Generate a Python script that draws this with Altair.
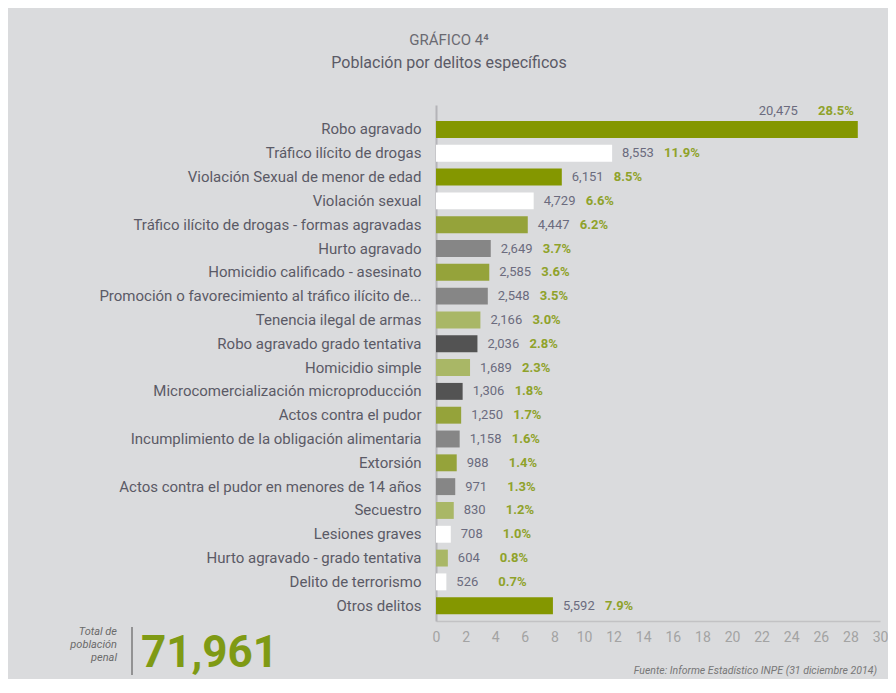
import altair as alt
import pandas as pd

categories = [
    "Robo agravado",
    "Tráfico ilícito de drogas",
    "Violación Sexual de menor de edad",
    "Violación sexual",
    "Tráfico ilícito de drogas - formas agravadas",
    "Hurto agravado",
    "Homicidio calificado - asesinato",
    "Promoción o favorecimiento al tráfico ilícito de...",
    "Tenencia ilegal de armas",
    "Robo agravado grado tentativa",
    "Homicidio simple",
    "Microcomercialización microproducción",
    "Actos contra el pudor",
    "Incumplimiento de la obligación alimentaria",
    "Extorsión",
    "Actos contra el pudor en menores de 14 años",
    "Secuestro",
    "Lesiones graves",
    "Hurto agravado - grado tentativa",
    "Delito de terrorismo",
    "Otros delitos",
]
counts = [20475, 8553, 6151, 4729, 4447, 2649, 2585, 2548, 2166, 2036, 1689,
          1306, 1250, 1158, 988, 971, 830, 708, 604, 526, 5592]
percents = [28.5, 11.9, 8.5, 6.6, 6.2, 3.7, 3.6, 3.5, 3.0, 2.8, 2.3,
            1.8, 1.7, 1.6, 1.4, 1.3, 1.2, 1.0, 0.8, 0.7, 7.9]
x_ticks = list(range(0, 31, 2))
total_label = "71,961"
title_text = "GRÁFICO 4⁴"
subtitle_text = "Población por delitos específicos"
total_caption = "Total de\npoblación\npenal"
source_text = "Fuente: Informe Estadístico INPE (31 diciembre 2014)"

# style palette (one per category)
DK = "#849700"
MD = "#95a33a"
LT = "#a9b766"
GR = "#868686"
DG = "#535353"
WH = "#ffffff"
bar_colors = [DK, WH, DK, WH, MD, GR, MD, GR, LT, DG, LT, DG, MD, GR, MD, GR,
              LT, WH, LT, WH, DK]

FONT = "Roboto"
df = pd.DataFrame({"cat": categories, "count": counts, "pct": percents})

base = alt.Chart(df)

yenc = alt.Y(
    "cat:N", sort=None, title=None,
    scale=alt.Scale(paddingInner=0.29, paddingOuter=0.48, align=0.7),
    axis=alt.Axis(labelFontSize=15, labelColor="#5a5a66", labelFont=FONT,
                  domainColor="#b4b4b8", domainWidth=2, ticks=False,
                  labelPadding=15, labelLimit=430),
)
xenc = alt.X(
    "pct:Q", title=None,
    scale=alt.Scale(domain=[0, 30], nice=False),
    axis=alt.Axis(values=x_ticks, labelFontSize=14, labelColor="#a3a3a3",
                  labelFont=FONT, domainColor="#c2c2c4", domainWidth=1.5,
                  ticks=False, grid=False, labelPadding=9, labelOverlap=False,
                  labelFlush=False, labelBound=False),
)

bars = base.mark_bar(stroke=None).encode(
    x=xenc, y=yenc,
    color=alt.Color("cat:N", scale=alt.Scale(domain=categories, range=bar_colors),
                    legend=None),
)

rest = base.transform_filter("datum.pct < 20").transform_calculate(
    plabel="format(datum.pct, '.1f') + '%'")
top = base.transform_filter("datum.pct >= 20").transform_calculate(
    plabel="format(datum.pct, '.1f') + '%'")

cnt_txt = rest.mark_text(align="left", dx=10, fontSize=13, font=FONT,
                         color="#6b6b7e").encode(
    x=xenc, y=yenc, text=alt.Text("count:Q", format=",d"))
pct_txt = rest.mark_text(align="left", dx=52, fontSize=13, font=FONT,
                         fontWeight="bold", color="#8fa22a").encode(
    x=xenc, y=yenc, text="plabel:N")
cnt_top = top.mark_text(align="right", dx=-60, dy=-18, fontSize=13, font=FONT,
                        color="#6b6b7e").encode(
    x=xenc, y=yenc, text=alt.Text("count:Q", format=",d"))
pct_top = top.mark_text(align="right", dx=-4, dy=-18, fontSize=13, font=FONT,
                        fontWeight="bold", color="#8fa22a").encode(
    x=xenc, y=yenc, text="plabel:N")

def note(text):
    return alt.Chart(pd.DataFrame({"t": [text]}))

title1 = note(title_text).mark_text(align="center", fontSize=15, font=FONT,
                                    color="#6a6a72").encode(
    x=alt.value(13), y=alt.value(-65), text="t:N")
title2 = note(subtitle_text).mark_text(align="center", fontSize=16, font=FONT,
                                       color="#5a5a66").encode(
    x=alt.value(13), y=alt.value(-42), text="t:N")
caption = note(total_caption).mark_text(
    align="right", baseline="top", lineBreak="\n", lineHeight=13, fontSize=11,
    font=FONT, fontStyle="italic", color="#6a6a6a").encode(
    x=alt.value(-319), y=alt.value(521), text="t:N")
sep = note("").mark_rule(color="#7a7a7a", strokeWidth=1.5).encode(
    x=alt.value(-304), y=alt.value(522), y2=alt.value(570))
total = note(total_label).mark_text(
    align="left", baseline="alphabetic", fontSize=44, font=FONT,
    fontWeight="bold", color="#7f9a14").encode(
    x=alt.value(-295), y=alt.value(562), text="t:N")
source = note(source_text).mark_text(
    align="right", fontSize=10.5, font=FONT, fontStyle="italic",
    color="#777777").encode(
    x=alt.value(441), y=alt.value(566), text="t:N")

chart = alt.layer(
    bars, cnt_txt, pct_txt, cnt_top, pct_top,
    title1, title2, caption, sep, total, source,
).properties(
    width=444, height=516,
    autosize=alt.AutoSizeParams(type="none"),
    padding={"left": 428, "top": 97, "right": 8, "bottom": 58},
    background="#dadbdd",
).configure_view(stroke=None).configure_axisX(
    labelOverlap=False, labelBound=False)

chart.save("out.html", embed_options={"renderer": "svg", "actions": False})
